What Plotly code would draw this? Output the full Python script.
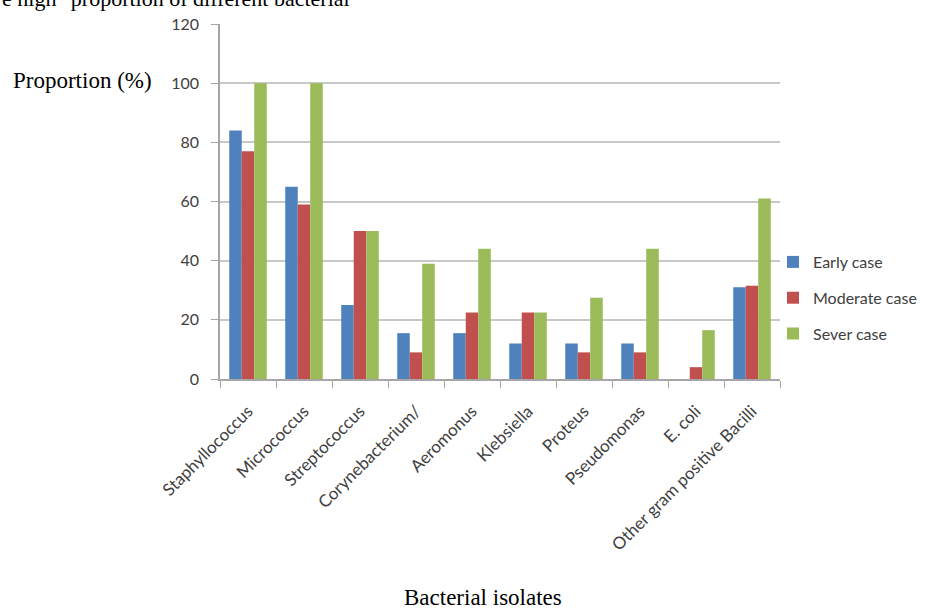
import plotly.graph_objects as go

categories = ["Staphyllococcus", "Micrococcus", "Streptococcus", "Corynebacterium/",
              "Aeromonus", "Klebsiella", "Proteus", "Pseudomonas", "E. coli",
              "Other gram positive Bacilli"]
early = [84, 65, 25, 15.5, 15.5, 12, 12, 12, None, 31]
moderate = [77, 59, 50, 9, 22.5, 22.5, 9, 9, 4, 31.5]
severe = [100, 100, 50, 39, 44, 22.5, 27.5, 44, 16.5, 61]
series_names = ["Early case", "Moderate case", "Sever case"]
colors = ["#4F81BD", "#C0504D", "#9BBB59"]

W, H = 936, 610
L, R, T, B = 220, 156, 24, 231
pw, ph = W - L - R, H - T - B

fig = go.Figure()
for name, vals, col in zip(series_names, [early, moderate, severe], colors):
    fig.add_trace(go.Bar(x=categories, y=vals, name=name, marker_color=col,
                         marker_line_width=0, legendgroup=name))

def px_x(x):
    return (x - L) / pw

def px_y(y):
    return (H - B - y) / ph

serif = "Liberation Serif"
fig.update_layout(
    width=W, height=H,
    margin=dict(l=L, r=R, t=T, b=B, pad=0),
    paper_bgcolor="white", plot_bgcolor="white",
    barmode="group", bargap=0.33, bargroupgap=0,
    font=dict(family="Lato", size=16, color="#404040"),
    showlegend=True,
    legend=dict(x=px_x(773), y=px_y(245), xanchor="left", yanchor="top",
                traceorder="grouped", tracegroupgap=12,
                font=dict(family="Lato", size=16, color="#404040"),
                itemwidth=30, bgcolor="rgba(0,0,0,0)", borderwidth=0),
    xaxis=dict(showline=True, linecolor="#A6A6A6", linewidth=1.5,
               ticks="outside", ticklen=7, tickcolor="#A6A6A6",
               tickson="boundaries", tickangle=-45, ticklabelstandoff=14,
               tickfont=dict(family="Lato", size=17, color="#404040"),
               showgrid=False),
    yaxis=dict(range=[0, 120], dtick=20, showline=True, linecolor="#A6A6A6",
               linewidth=1.5, ticks="outside", ticklen=7, tickcolor="#A6A6A6",
               ticklabelstandoff=9,
               showgrid=True, gridcolor="#C8C8C8", gridwidth=1.5,
               tickfont=dict(family="Lato", size=16, color="#404040"),
               zeroline=False),
    annotations=[
        dict(text="e high\" proportion of different bacterial", xref="paper", yref="paper",
             x=px_x(0), y=px_y(-1.5), xanchor="left", yanchor="middle", showarrow=False,
             font=dict(family=serif, size=22, color="black")),
        dict(text="Proportion (%)", xref="paper", yref="paper",
             x=px_x(11), y=px_y(80), xanchor="left", yanchor="middle", showarrow=False,
             font=dict(family=serif, size=23, color="black")),
        dict(text="Bacterial isolates", xref="paper", yref="paper",
             x=px_x(483), y=px_y(597), xanchor="center", yanchor="middle", showarrow=False,
             font=dict(family=serif, size=23, color="black")),
    ],
)

fig.write_html("out.html")
